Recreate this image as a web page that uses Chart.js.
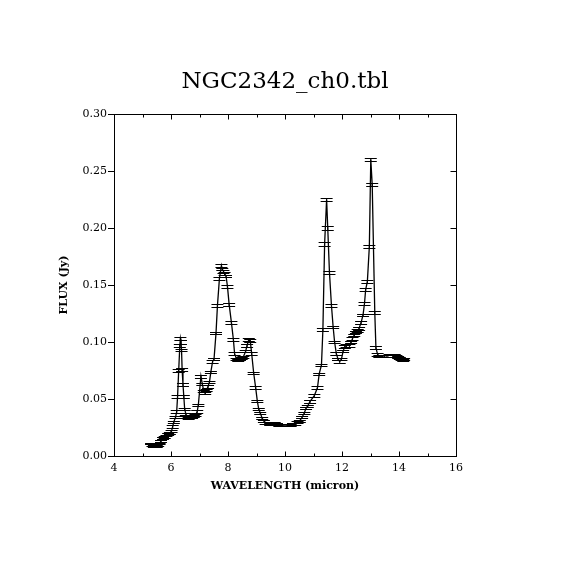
<!DOCTYPE html>
<html>
<head>
<meta charset="utf-8">
<title>NGC2342_ch0.tbl</title>
<script src="https://cdn.jsdelivr.net/npm/chart.js@4.4.1/dist/chart.umd.min.js"></script>
<style>
  html, body { margin: 0; padding: 0; background: #fff; }
  #chart { display: block; }
</style>
</head>
<body>
<canvas id="chart" width="570" height="570"></canvas>
<script>
// spectrum: wavelength (micron), flux (Jy), flux error (Jy)
const wavelength = [
    5.30, 5.35, 5.40, 5.45, 5.50, 5.55, 5.60, 5.65,
    5.72, 5.78, 5.84, 5.90, 5.96,
    6.02, 6.06, 6.10, 6.16, 6.20, 6.23, 6.27, 6.31, 6.33, 6.35, 6.37, 6.39, 6.42, 6.45, 6.48, 6.52,
    6.56, 6.62, 6.68, 6.74, 6.80, 6.86, 6.92, 6.96,
    7.05, 7.10, 7.15, 7.20, 7.25, 7.30, 7.35, 7.40, 7.46,
    7.51, 7.58, 7.63, 7.70, 7.77, 7.80, 7.84, 7.88, 7.93, 7.98,
    8.04, 8.12, 8.19, 8.23, 8.30, 8.36, 8.42, 8.48, 8.54, 8.62, 8.67, 8.73, 8.78, 8.83, 8.90, 8.97,
    9.03, 9.08, 9.13, 9.20, 9.26, 9.32, 9.40, 9.48, 9.56, 9.64, 9.72, 9.80, 9.88, 9.96,
    10.04, 10.12, 10.20, 10.28, 10.36, 10.44, 10.52, 10.60, 10.68, 10.74, 10.80, 10.88,
    11.03, 11.14, 11.20, 11.28, 11.33, 11.39, 11.46, 11.50, 11.56, 11.63, 11.69, 11.74, 11.80, 11.86, 11.92, 11.98,
    12.04, 12.10, 12.16, 12.26, 12.32, 12.37, 12.43, 12.49, 12.55, 12.60, 12.67, 12.74, 12.79, 12.83, 12.89, 12.96,
    13.01, 13.06, 13.15, 13.19, 13.25, 13.31, 13.37, 13.43, 13.49, 13.55, 13.61, 13.67, 13.73, 13.79, 13.85, 13.91, 13.97,
    14.03, 14.09, 14.15, 14.18
];

const flux = [
    0.011, 0.010, 0.009, 0.010, 0.009, 0.010, 0.011, 0.013,
    0.016, 0.017, 0.018, 0.019, 0.020,
    0.022, 0.026, 0.030, 0.034, 0.039, 0.052, 0.075, 0.097, 0.103, 0.100, 0.093, 0.076, 0.063, 0.052, 0.041, 0.037,
    0.034, 0.033, 0.034, 0.034, 0.035, 0.036, 0.039, 0.045,
    0.070, 0.063, 0.057, 0.055, 0.058, 0.061, 0.065, 0.074, 0.083,
    0.085, 0.108, 0.132, 0.156, 0.167, 0.164, 0.162, 0.160, 0.158, 0.149,
    0.133, 0.117, 0.102, 0.090, 0.085, 0.084, 0.085, 0.086, 0.087, 0.092, 0.097, 0.102, 0.101, 0.090, 0.073, 0.060,
    0.048, 0.041, 0.038, 0.033, 0.031, 0.029, 0.029, 0.028, 0.029, 0.029, 0.028, 0.027, 0.027, 0.027,
    0.027, 0.027, 0.027, 0.028, 0.028, 0.030, 0.031, 0.034, 0.038, 0.042, 0.044, 0.048,
    0.053, 0.060, 0.072, 0.080, 0.111, 0.186, 0.225, 0.200, 0.161, 0.132, 0.113, 0.100, 0.090, 0.085, 0.083, 0.085,
    0.092, 0.096, 0.097, 0.097, 0.100, 0.103, 0.106, 0.109, 0.110, 0.112, 0.117, 0.124, 0.134, 0.146, 0.153, 0.184,
    0.260, 0.238, 0.126, 0.095, 0.089, 0.088, 0.088, 0.088, 0.088, 0.088, 0.088, 0.089, 0.089, 0.089, 0.089, 0.088, 0.087,
    0.086, 0.085, 0.084, 0.085
];

const fluxErr = [
    0.0008, 0.0008, 0.0008, 0.0008, 0.0008, 0.0008, 0.0008, 0.0008,
    0.0008, 0.0008, 0.0008, 0.0008, 0.0008,
    0.0008, 0.0010, 0.0010, 0.0010, 0.0010, 0.0012, 0.0012, 0.0014, 0.0014, 0.0014, 0.0012, 0.0012, 0.0012, 0.0012, 0.0010, 0.0010,
    0.0008, 0.0008, 0.0008, 0.0008, 0.0008, 0.0008, 0.0010, 0.0010,
    0.0012, 0.0010, 0.0010, 0.0010, 0.0010, 0.0010, 0.0010, 0.0010, 0.0010,
    0.0010, 0.0012, 0.0012, 0.0012, 0.0012, 0.0012, 0.0012, 0.0012, 0.0012, 0.0012,
    0.0012, 0.0010, 0.0012, 0.0010, 0.0010, 0.0010, 0.0010, 0.0010, 0.0010, 0.0010, 0.0012, 0.0012, 0.0012, 0.0010, 0.0010, 0.0010,
    0.0010, 0.0010, 0.0010, 0.0008, 0.0008, 0.0008, 0.0008, 0.0008, 0.0008, 0.0008, 0.0008, 0.0008, 0.0008, 0.0008,
    0.0008, 0.0008, 0.0008, 0.0008, 0.0008, 0.0008, 0.0008, 0.0008, 0.0008, 0.0010, 0.0010, 0.0012,
    0.0010, 0.0010, 0.0010, 0.0010, 0.0012, 0.0014, 0.0012, 0.0014, 0.0012, 0.0010, 0.0010, 0.0010, 0.0010, 0.0010, 0.0010, 0.0010,
    0.0010, 0.0010, 0.0010, 0.0010, 0.0010, 0.0010, 0.0010, 0.0010, 0.0010, 0.0012, 0.0010, 0.0010, 0.0012, 0.0010, 0.0012, 0.0012,
    0.0014, 0.0014, 0.0012, 0.0012, 0.0010, 0.0008, 0.0008, 0.0008, 0.0008, 0.0008, 0.0008, 0.0008, 0.0008, 0.0008, 0.0008, 0.0010, 0.0008,
    0.0010, 0.0010, 0.0008, 0.0010
];

const xMin = 4, xMax = 16, xStep = 2;
const yMin = 0, yMax = 0.30, yStep = 0.05;

const INK = '#000';
const SERIF = "'DejaVu Serif', 'Liberation Serif', serif";

const points = wavelength.map((w, i) => ({ x: w, y: flux[i] }));

// small horizontal caps at flux +/- error, like the original plot
const errorBars = {
    id: 'errorBars',
    afterDatasetsDraw(chart) {
        const { ctx, scales: { x, y } } = chart;
        const half = 6;
        ctx.save();
        ctx.strokeStyle = INK;
        ctx.lineWidth = 1;
        ctx.beginPath();
        wavelength.forEach((w, i) => {
            const px = x.getPixelForValue(w);
            const hi = Math.round(y.getPixelForValue(flux[i] + fluxErr[i])) + 0.5;
            const lo = Math.round(y.getPixelForValue(flux[i] - fluxErr[i])) + 0.5;
            ctx.moveTo(px - half, hi); ctx.lineTo(px + half, hi);
            ctx.moveTo(px - half, lo); ctx.lineTo(px + half, lo);
            ctx.moveTo(px, hi); ctx.lineTo(px, lo);
        });
        ctx.stroke();
        ctx.restore();
    }
};

// box around the plot and the inward ticks on bottom, top and right
const frame = {
    id: 'frame',
    afterDraw(chart) {
        const { ctx, chartArea: a, scales: { x, y } } = chart;
        const L = Math.round(a.left) + 0.5, R = Math.round(a.right) + 0.5;
        const T = Math.round(a.top) + 0.5, B = Math.round(a.bottom) + 0.5;
        ctx.save();
        ctx.strokeStyle = INK;
        ctx.lineWidth = 1;
        ctx.strokeRect(L, T, R - L, B - T);
        ctx.beginPath();
        for (let v = xMin; v <= xMax; v += 1) {
            const px = Math.round(x.getPixelForValue(v)) + 0.5;
            const len = (v - xMin) % xStep === 0 ? 5 : 3;
            ctx.moveTo(px, B); ctx.lineTo(px, B - len);
            ctx.moveTo(px, T); ctx.lineTo(px, T + len);
        }
        for (let k = 0; k <= Math.round((yMax - yMin) / yStep); k++) {
            const py = Math.round(y.getPixelForValue(yMin + k * yStep)) + 0.5;
            ctx.moveTo(R, py); ctx.lineTo(R - 6, py);
        }
        ctx.stroke();
        ctx.restore();
    }
};

new Chart(document.getElementById('chart'), {
    type: 'line',
    data: {
        datasets: [{
            data: points,
            borderColor: INK,
            borderWidth: 1.3,
            pointRadius: 0,
            tension: 0,
            fill: false
        }]
    },
    options: {
        responsive: false,
        devicePixelRatio: 1,
        animation: false,
        layout: { padding: 0 },
        scales: {
            x: {
                type: 'linear',
                min: xMin,
                max: xMax,
                afterFit: scale => { scale.height = 114; },
                grid: { display: false, drawTicks: false },
                border: { display: false },
                ticks: {
                    stepSize: xStep,
                    padding: 6,
                    color: INK,
                    font: { family: SERIF, size: 11 },
                    callback: v => String(v)
                },
                title: {
                    display: true,
                    text: 'WAVELENGTH (micron)',
                    color: INK,
                    font: { family: SERIF, size: 11, weight: 'bold' },
                    padding: { top: 0, bottom: 77 }
                }
            },
            y: {
                min: yMin,
                max: yMax,
                afterFit: scale => { scale.width = 114; },
                grid: { drawOnChartArea: false, drawTicks: true, tickLength: 6, color: INK },
                border: { display: false },
                ticks: {
                    stepSize: yStep,
                    padding: 1,
                    color: INK,
                    font: { family: SERIF, size: 11 },
                    callback: v => v.toFixed(2)
                },
                title: {
                    display: true,
                    text: 'FLUX (Jy)',
                    color: INK,
                    font: { family: SERIF, size: 11, weight: 'bold' },
                    padding: { top: 58, bottom: 0 }
                }
            },
            // empty right-hand axis, only to reserve the right margin
            yRight: {
                position: 'right',
                min: yMin,
                max: yMax,
                afterFit: scale => { scale.width = 114; },
                grid: { display: false, drawTicks: false },
                border: { display: false },
                ticks: { display: false }
            }
        },
        plugins: {
            legend: { display: false },
            tooltip: { enabled: false },
            title: {
                display: true,
                text: 'NGC2342_ch0.tbl',
                color: INK,
                font: { family: SERIF, size: 23, weight: 'normal', lineHeight: 1.2 },
                padding: { top: 68, bottom: 18.4 }
            }
        }
    },
    plugins: [errorBars, frame]
});
</script>
</body>
</html>
